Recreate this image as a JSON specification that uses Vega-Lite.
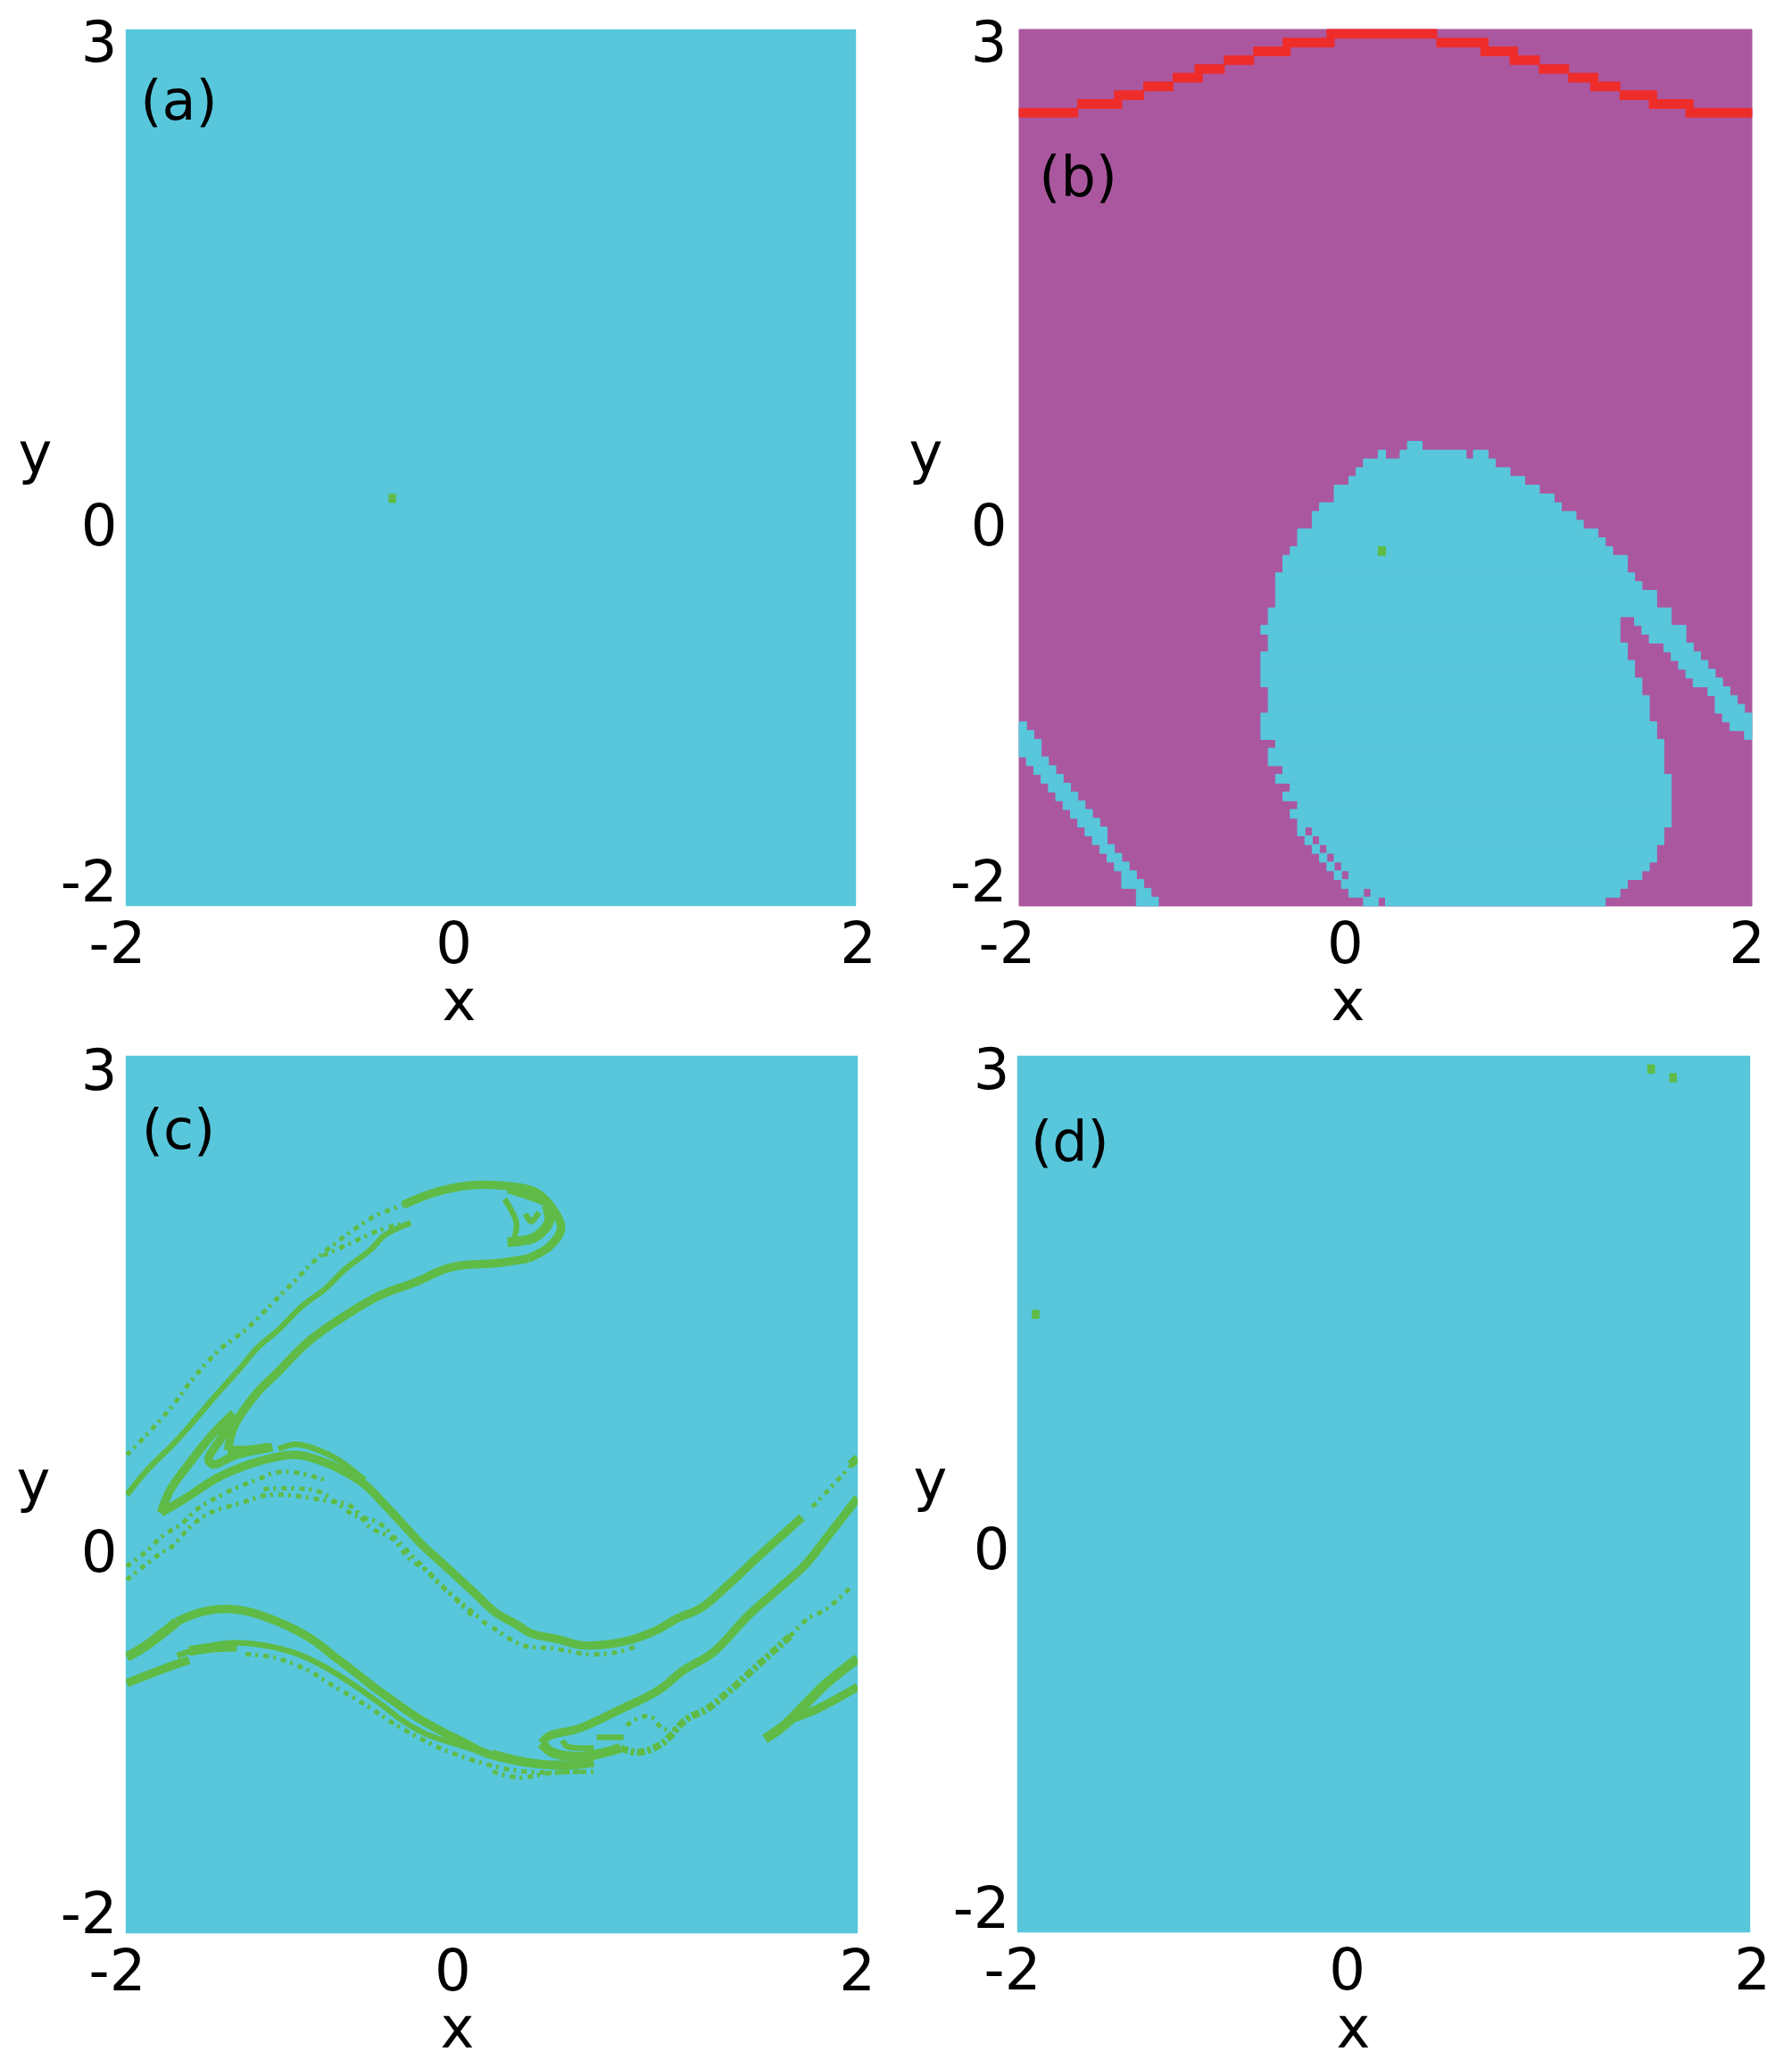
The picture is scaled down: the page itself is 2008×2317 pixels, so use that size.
{"$schema":"https://vega.github.io/schema/vega-lite/v6.json","padding":{"left":18,"top":17,"right":0,"bottom":0},"background":"white","bounds":"flush","spacing":1150,
"config":{"view":{"stroke":null},"font":"DejaVu Sans","axis":{"grid":false,"domain":false,"ticks":false,"labelFont":"DejaVu Sans","titleFont":"DejaVu Sans","labelFontSize":64,"titleFontSize":64,"labelColor":"black","titleColor":"black","titleFontWeight":"normal","labelBound":false,"labelFlush":false,"labelOverlap":false}},
"datasets":{
"a":[{"x":-2,"x2":2,"y":-2,"y2":3,"b":"cyan"},{"x":-0.56,"x2":-0.52,"y":0.3,"y2":0.35,"b":"green"}],
"d":[{"x":-2,"x2":2,"y":-2,"y2":3,"b":"cyan"},{"x":1.44,"x2":1.48,"y":2.9,"y2":2.95,"b":"green"},{"x":1.56,"x2":1.6,"y":2.85,"y2":2.9,"b":"green"},{"x":-1.92,"x2":-1.88,"y":1.5,"y2":1.55,"b":"green"}],
"b":[{"x":-2,"x2":2,"y":-2,"y2":3,"b":"purple"},
{"x":-0.32,"x2":0.28,"y":2.95,"y2":3,"b":"red"},{"x":-0.56,"x2":-0.28,"y":2.9,"y2":2.95,"b":"red"},{"x":0.28,"x2":0.56,"y":2.9,"y2":2.95,"b":"red"},{"x":-0.72,"x2":-0.52,"y":2.85,"y2":2.9,"b":"red"},{"x":0.52,"x2":0.72,"y":2.85,"y2":2.9,"b":"red"},{"x":-0.88,"x2":-0.72,"y":2.8,"y2":2.85,"b":"red"},{"x":0.68,"x2":0.84,"y":2.8,"y2":2.85,"b":"red"},{"x":-1.04,"x2":-0.88,"y":2.75,"y2":2.8,"b":"red"},{"x":0.84,"x2":1,"y":2.75,"y2":2.8,"b":"red"},{"x":-1.16,"x2":-1,"y":2.7,"y2":2.75,"b":"red"},{"x":1,"x2":1.16,"y":2.7,"y2":2.75,"b":"red"},{"x":-1.32,"x2":-1.16,"y":2.65,"y2":2.7,"b":"red"},{"x":1.12,"x2":1.28,"y":2.65,"y2":2.7,"b":"red"},{"x":-1.48,"x2":-1.32,"y":2.6,"y2":2.65,"b":"red"},{"x":1.28,"x2":1.48,"y":2.6,"y2":2.65,"b":"red"},{"x":-1.68,"x2":-1.44,"y":2.55,"y2":2.6,"b":"red"},{"x":1.44,"x2":1.68,"y":2.55,"y2":2.6,"b":"red"},{"x":-2,"x2":-1.68,"y":2.5,"y2":2.55,"b":"red"},{"x":1.64,"x2":2,"y":2.5,"y2":2.55,"b":"red"},
{"x":0.12,"x2":0.2,"y":0.6,"y2":0.65,"b":"cyan"},{"x":-0.04,"x2":0,"y":0.55,"y2":0.6,"b":"cyan"},{"x":0.08,"x2":0.44,"y":0.55,"y2":0.6,"b":"cyan"},{"x":0.48,"x2":0.56,"y":0.55,"y2":0.6,"b":"cyan"},{"x":-0.12,"x2":0.6,"y":0.5,"y2":0.55,"b":"cyan"},{"x":-0.16,"x2":0.68,"y":0.45,"y2":0.5,"b":"cyan"},{"x":-0.2,"x2":0.76,"y":0.4,"y2":0.45,"b":"cyan"},{"x":-0.28,"x2":0.84,"y":0.35,"y2":0.4,"b":"cyan"},{"x":-0.28,"x2":0.92,"y":0.3,"y2":0.35,"b":"cyan"},{"x":-0.36,"x2":0.96,"y":0.25,"y2":0.3,"b":"cyan"},{"x":-0.4,"x2":1.04,"y":0.2,"y2":0.25,"b":"cyan"},{"x":-0.4,"x2":1.08,"y":0.15,"y2":0.2,"b":"cyan"},{"x":-0.48,"x2":1.16,"y":0.1,"y2":0.15,"b":"cyan"},{"x":-0.48,"x2":1.2,"y":0.05,"y2":0.1,"b":"cyan"},{"x":-0.52,"x2":1.24,"y":0,"y2":0.05,"b":"cyan"},{"x":-0.56,"x2":1.32,"y":-0.05,"y2":0,"b":"cyan"},{"x":-0.56,"x2":1.32,"y":-0.1,"y2":-0.05,"b":"cyan"},{"x":-0.6,"x2":1.36,"y":-0.15,"y2":-0.1,"b":"cyan"},{"x":-0.6,"x2":1.4,"y":-0.2,"y2":-0.15,"b":"cyan"},{"x":-0.6,"x2":1.48,"y":-0.25,"y2":-0.2,"b":"cyan"},{"x":-0.6,"x2":1.48,"y":-0.3,"y2":-0.25,"b":"cyan"},{"x":-0.64,"x2":1.56,"y":-0.35,"y2":-0.3,"b":"cyan"},
{"x":-0.64,"x2":1.28,"y":-0.4,"y2":-0.35,"b":"cyan"},{"x":1.36,"x2":1.56,"y":-0.4,"y2":-0.35,"b":"cyan"},{"x":-0.68,"x2":1.28,"y":-0.45,"y2":-0.4,"b":"cyan"},{"x":1.4,"x2":1.64,"y":-0.45,"y2":-0.4,"b":"cyan"},{"x":-0.64,"x2":1.28,"y":-0.5,"y2":-0.45,"b":"cyan"},{"x":1.44,"x2":1.64,"y":-0.5,"y2":-0.45,"b":"cyan"},{"x":-0.64,"x2":1.32,"y":-0.55,"y2":-0.5,"b":"cyan"},{"x":1.52,"x2":1.68,"y":-0.55,"y2":-0.5,"b":"cyan"},{"x":-0.68,"x2":1.32,"y":-0.6,"y2":-0.55,"b":"cyan"},{"x":1.56,"x2":1.72,"y":-0.6,"y2":-0.55,"b":"cyan"},{"x":-0.68,"x2":1.36,"y":-0.65,"y2":-0.6,"b":"cyan"},{"x":1.6,"x2":1.76,"y":-0.65,"y2":-0.6,"b":"cyan"},{"x":-0.68,"x2":1.36,"y":-0.7,"y2":-0.65,"b":"cyan"},{"x":1.64,"x2":1.8,"y":-0.7,"y2":-0.65,"b":"cyan"},{"x":-0.68,"x2":1.4,"y":-0.75,"y2":-0.7,"b":"cyan"},{"x":1.68,"x2":1.84,"y":-0.75,"y2":-0.7,"b":"cyan"},{"x":-0.64,"x2":1.4,"y":-0.8,"y2":-0.75,"b":"cyan"},{"x":1.76,"x2":1.88,"y":-0.8,"y2":-0.75,"b":"cyan"},{"x":-0.64,"x2":1.44,"y":-0.85,"y2":-0.8,"b":"cyan"},{"x":1.8,"x2":1.92,"y":-0.85,"y2":-0.8,"b":"cyan"},{"x":-0.64,"x2":1.44,"y":-0.9,"y2":-0.85,"b":"cyan"},{"x":1.8,"x2":1.96,"y":-0.9,"y2":-0.85,"b":"cyan"},{"x":-0.68,"x2":1.44,"y":-0.95,"y2":-0.9,"b":"cyan"},{"x":1.84,"x2":2,"y":-0.95,"y2":-0.9,"b":"cyan"},{"x":-0.68,"x2":1.48,"y":-1,"y2":-0.95,"b":"cyan"},{"x":1.88,"x2":2,"y":-1,"y2":-0.95,"b":"cyan"},{"x":-0.68,"x2":1.48,"y":-1.05,"y2":-1,"b":"cyan"},{"x":1.96,"x2":2,"y":-1.05,"y2":-1,"b":"cyan"},
{"x":-0.6,"x2":1.52,"y":-1.1,"y2":-1.05,"b":"cyan"},{"x":-0.64,"x2":1.52,"y":-1.15,"y2":-1.1,"b":"cyan"},{"x":-0.64,"x2":1.52,"y":-1.2,"y2":-1.15,"b":"cyan"},{"x":-0.56,"x2":1.52,"y":-1.25,"y2":-1.2,"b":"cyan"},{"x":-0.6,"x2":1.56,"y":-1.3,"y2":-1.25,"b":"cyan"},{"x":-0.52,"x2":1.56,"y":-1.35,"y2":-1.3,"b":"cyan"},{"x":-0.56,"x2":1.56,"y":-1.4,"y2":-1.35,"b":"cyan"},{"x":-0.48,"x2":1.56,"y":-1.45,"y2":-1.4,"b":"cyan"},{"x":-0.52,"x2":1.56,"y":-1.5,"y2":-1.45,"b":"cyan"},{"x":-0.48,"x2":1.56,"y":-1.55,"y2":-1.5,"b":"cyan"},{"x":-0.48,"x2":-0.44,"y":-1.6,"y2":-1.55,"b":"cyan"},{"x":-0.4,"x2":1.52,"y":-1.6,"y2":-1.55,"b":"cyan"},{"x":-0.44,"x2":-0.4,"y":-1.65,"y2":-1.6,"b":"cyan"},{"x":-0.36,"x2":1.52,"y":-1.65,"y2":-1.6,"b":"cyan"},{"x":-0.4,"x2":-0.36,"y":-1.7,"y2":-1.65,"b":"cyan"},{"x":-0.32,"x2":1.48,"y":-1.7,"y2":-1.65,"b":"cyan"},{"x":-0.36,"x2":-0.32,"y":-1.75,"y2":-1.7,"b":"cyan"},{"x":-0.28,"x2":1.48,"y":-1.75,"y2":-1.7,"b":"cyan"},{"x":-0.32,"x2":-0.28,"y":-1.8,"y2":-1.75,"b":"cyan"},{"x":-0.24,"x2":1.44,"y":-1.8,"y2":-1.75,"b":"cyan"},{"x":-0.28,"x2":-0.24,"y":-1.85,"y2":-1.8,"b":"cyan"},{"x":-0.2,"x2":1.4,"y":-1.85,"y2":-1.8,"b":"cyan"},{"x":-0.24,"x2":1.32,"y":-1.9,"y2":-1.85,"b":"cyan"},{"x":-0.2,"x2":-0.12,"y":-1.95,"y2":-1.9,"b":"cyan"},{"x":-0.08,"x2":1.28,"y":-1.95,"y2":-1.9,"b":"cyan"},{"x":-0.12,"x2":-0.04,"y":-2,"y2":-1.95,"b":"cyan"},{"x":0,"x2":1.2,"y":-2,"y2":-1.95,"b":"cyan"},
{"x":-2,"x2":-1.96,"y":-1,"y2":-0.95,"b":"cyan"},{"x":-2,"x2":-1.92,"y":-1.05,"y2":-1,"b":"cyan"},{"x":-2,"x2":-1.88,"y":-1.1,"y2":-1.05,"b":"cyan"},{"x":-2,"x2":-1.88,"y":-1.15,"y2":-1.1,"b":"cyan"},{"x":-1.96,"x2":-1.84,"y":-1.2,"y2":-1.15,"b":"cyan"},{"x":-1.92,"x2":-1.8,"y":-1.25,"y2":-1.2,"b":"cyan"},{"x":-1.88,"x2":-1.76,"y":-1.3,"y2":-1.25,"b":"cyan"},{"x":-1.84,"x2":-1.72,"y":-1.35,"y2":-1.3,"b":"cyan"},{"x":-1.8,"x2":-1.68,"y":-1.4,"y2":-1.35,"b":"cyan"},{"x":-1.76,"x2":-1.64,"y":-1.45,"y2":-1.4,"b":"cyan"},{"x":-1.72,"x2":-1.6,"y":-1.5,"y2":-1.45,"b":"cyan"},{"x":-1.68,"x2":-1.56,"y":-1.55,"y2":-1.5,"b":"cyan"},{"x":-1.64,"x2":-1.52,"y":-1.6,"y2":-1.55,"b":"cyan"},{"x":-1.6,"x2":-1.52,"y":-1.65,"y2":-1.6,"b":"cyan"},{"x":-1.56,"x2":-1.48,"y":-1.7,"y2":-1.65,"b":"cyan"},{"x":-1.52,"x2":-1.44,"y":-1.75,"y2":-1.7,"b":"cyan"},{"x":-1.48,"x2":-1.4,"y":-1.8,"y2":-1.75,"b":"cyan"},{"x":-1.44,"x2":-1.36,"y":-1.85,"y2":-1.8,"b":"cyan"},{"x":-1.44,"x2":-1.32,"y":-1.9,"y2":-1.85,"b":"cyan"},{"x":-1.36,"x2":-1.28,"y":-1.95,"y2":-1.9,"b":"cyan"},{"x":-1.36,"x2":-1.24,"y":-2,"y2":-1.95,"b":"cyan"},
{"x":-0.04,"x2":0,"y":0,"y2":0.05,"b":"green"}],
"cbg":[{"x":-2,"x2":2,"y":-2,"y2":3,"b":"cyan"}],
"c":[
{"c":"A1","k":"sparse","x":-1.995,"y":0.726},{"c":"A1","k":"sparse","x":-1.898,"y":0.828},{"c":"A1","k":"sparse","x":-1.751,"y":0.998},{"c":"A1","k":"sparse","x":-1.621,"y":1.176},{"c":"A1","k":"sparse","x":-1.475,"y":1.337},{"c":"A1","k":"sparse","x":-1.345,"y":1.439},{"c":"A1","k":"sparse","x":-1.198,"y":1.591},{"c":"A1","k":"sparse","x":-1.068,"y":1.727},{"c":"A1","k":"sparse","x":-0.938,"y":1.862},{"c":"A1","k":"sparse","x":-0.792,"y":1.981},{"c":"A1","k":"sparse","x":-0.646,"y":2.083},{"c":"A1","k":"sparse","x":-0.483,"y":2.151},
{"c":"A2","k":"main","x":-0.483,"y":2.151},{"c":"A2","k":"main","x":-0.32,"y":2.219},{"c":"A2","k":"main","x":-0.125,"y":2.261},{"c":"A2","k":"main","x":0.054,"y":2.261},{"c":"A2","k":"main","x":0.232,"y":2.227},{"c":"A2","k":"main","x":0.33,"y":2.134},{"c":"A2","k":"main","x":0.379,"y":2.015},{"c":"A2","k":"main","x":0.314,"y":1.913},{"c":"A2","k":"main","x":0.2,"y":1.845},
{"c":"A3","k":"main","x":0.2,"y":1.845},{"c":"A3","k":"main","x":0.037,"y":1.82},{"c":"A3","k":"main","x":-0.223,"y":1.795},{"c":"A3","k":"main","x":-0.418,"y":1.71},{"c":"A3","k":"main","x":-0.613,"y":1.634},{"c":"A3","k":"main","x":-0.808,"y":1.515},{"c":"A3","k":"main","x":-1.003,"y":1.371},{"c":"A3","k":"main","x":-1.166,"y":1.201},{"c":"A3","k":"main","x":-1.28,"y":1.083},{"c":"A3","k":"main","x":-1.377,"y":0.947},{"c":"A3","k":"main","x":-1.418,"y":0.862},{"c":"A3","k":"main","x":-1.442,"y":0.752},
{"c":"A4","k":"dense","x":0.086,"y":1.939},{"c":"A4","k":"dense","x":0.232,"y":1.964},{"c":"A4","k":"dense","x":0.314,"y":2.057},{"c":"A4","k":"dense","x":0.298,"y":2.151},
{"c":"A5","k":"thin","x":0.07,"y":2.185},{"c":"A5","k":"thin","x":0.135,"y":2.049},{"c":"A5","k":"thin","x":0.119,"y":1.947},
{"c":"A6","k":"thin","x":0.184,"y":2.1},{"c":"A6","k":"thin","x":0.216,"y":2.057},{"c":"A6","k":"thin","x":0.257,"y":2.108},
{"c":"A7","k":"thin","x":0.086,"y":2.235},{"c":"A7","k":"thin","x":0.232,"y":2.185},{"c":"A7","k":"thin","x":0.314,"y":2.151},
{"c":"B","k":"thin","x":-1.995,"y":0.498},{"c":"B","k":"thin","x":-1.881,"y":0.642},{"c":"B","k":"thin","x":-1.735,"y":0.794},{"c":"B","k":"thin","x":-1.605,"y":0.947},{"c":"B","k":"thin","x":-1.507,"y":1.066},{"c":"B","k":"thin","x":-1.377,"y":1.218},{"c":"B","k":"thin","x":-1.28,"y":1.337},{"c":"B","k":"thin","x":-1.166,"y":1.439},{"c":"B","k":"thin","x":-1.036,"y":1.574},{"c":"B","k":"thin","x":-0.906,"y":1.676},{"c":"B","k":"thin","x":-0.808,"y":1.778},{"c":"B","k":"thin","x":-0.662,"y":1.896},{"c":"B","k":"thin","x":-0.581,"y":1.981},{"c":"B","k":"thin","x":-0.442,"y":2.049},
{"c":"B2","k":"sparse","x":-0.922,"y":1.862},{"c":"B2","k":"sparse","x":-0.776,"y":1.93},{"c":"B2","k":"sparse","x":-0.613,"y":2.007},{"c":"B2","k":"sparse","x":-0.499,"y":2.04},
{"c":"C","k":"main","x":-1.808,"y":0.396},{"c":"C","k":"main","x":-1.759,"y":0.523},{"c":"C","k":"main","x":-1.654,"y":0.676},{"c":"C","k":"main","x":-1.524,"y":0.845},{"c":"C","k":"main","x":-1.41,"y":0.964},
{"c":"C2","k":"main","x":-1.808,"y":0.396},{"c":"C2","k":"main","x":-1.67,"y":0.481},{"c":"C2","k":"main","x":-1.507,"y":0.591},{"c":"C2","k":"main","x":-1.361,"y":0.659},{"c":"C2","k":"main","x":-1.198,"y":0.709},{"c":"C2","k":"main","x":-1.068,"y":0.726},{"c":"C2","k":"main","x":-0.938,"y":0.693},{"c":"C2","k":"main","x":-0.808,"y":0.633},{"c":"C2","k":"main","x":-0.694,"y":0.557},{"c":"C2","k":"main","x":-0.581,"y":0.438},{"c":"C2","k":"main","x":-0.483,"y":0.328},{"c":"C2","k":"main","x":-0.385,"y":0.218},{"c":"C2","k":"main","x":-0.288,"y":0.125},{"c":"C2","k":"main","x":-0.207,"y":0.048},{"c":"C2","k":"main","x":-0.093,"y":-0.062},{"c":"C2","k":"main","x":0.021,"y":-0.172},{"c":"C2","k":"main","x":0.135,"y":-0.24},{"c":"C2","k":"main","x":0.216,"y":-0.291},{"c":"C2","k":"main","x":0.363,"y":-0.325},{"c":"C2","k":"main","x":0.493,"y":-0.359},{"c":"C2","k":"main","x":0.655,"y":-0.35},{"c":"C2","k":"main","x":0.769,"y":-0.325},{"c":"C2","k":"main","x":0.899,"y":-0.274},{"c":"C2","k":"main","x":1.013,"y":-0.206},{"c":"C2","k":"main","x":1.143,"y":-0.147},{"c":"C2","k":"main","x":1.306,"y":-0.002},{"c":"C2","k":"main","x":1.452,"y":0.141},{"c":"C2","k":"main","x":1.615,"y":0.294},{"c":"C2","k":"main","x":1.696,"y":0.37},
{"c":"C3","k":"sparse","x":1.753,"y":0.43},{"c":"C3","k":"sparse","x":1.891,"y":0.582},{"c":"C3","k":"sparse","x":1.975,"y":0.679},
{"c":"C4","k":"main","x":1.96,"y":0.67},{"c":"C4","k":"main","x":2,"y":0.709},
{"c":"D","k":"main","x":-1.41,"y":0.955},{"c":"D","k":"main","x":-1.475,"y":0.828},{"c":"D","k":"main","x":-1.548,"y":0.701},{"c":"D","k":"main","x":-1.524,"y":0.672},{"c":"D","k":"main","x":-1.394,"y":0.726},{"c":"D","k":"main","x":-1.198,"y":0.769},
{"c":"D2","k":"dense","x":-1.442,"y":0.752},{"c":"D2","k":"dense","x":-1.328,"y":0.752},{"c":"D2","k":"dense","x":-1.215,"y":0.769},
{"c":"D3","k":"thin","x":-1.166,"y":0.76},{"c":"D3","k":"thin","x":-1.068,"y":0.786},{"c":"D3","k":"thin","x":-0.906,"y":0.735},{"c":"D3","k":"thin","x":-0.808,"y":0.676},{"c":"D3","k":"thin","x":-0.694,"y":0.582},
{"c":"E1","k":"sparse","x":-1.995,"y":0.091},{"c":"E1","k":"sparse","x":-1.898,"y":0.167},{"c":"E1","k":"sparse","x":-1.792,"y":0.269},{"c":"E1","k":"sparse","x":-1.702,"y":0.328},{"c":"E1","k":"sparse","x":-1.605,"y":0.421},{"c":"E1","k":"sparse","x":-1.507,"y":0.481},{"c":"E1","k":"sparse","x":-1.394,"y":0.54},{"c":"E1","k":"sparse","x":-1.288,"y":0.582},{"c":"E1","k":"sparse","x":-1.182,"y":0.625},{"c":"E1","k":"sparse","x":-1.068,"y":0.625},{"c":"E1","k":"sparse","x":-0.906,"y":0.582},
{"c":"E2","k":"sparse","x":-1.995,"y":0.014},{"c":"E2","k":"sparse","x":-1.914,"y":0.082},{"c":"E2","k":"sparse","x":-1.808,"y":0.167},{"c":"E2","k":"sparse","x":-1.751,"y":0.201},{"c":"E2","k":"sparse","x":-1.654,"y":0.311},{"c":"E2","k":"sparse","x":-1.556,"y":0.387},{"c":"E2","k":"sparse","x":-1.475,"y":0.421},{"c":"E2","k":"sparse","x":-1.361,"y":0.455},{"c":"E2","k":"sparse","x":-1.231,"y":0.497},{"c":"E2","k":"sparse","x":-1.068,"y":0.492},{"c":"E2","k":"sparse","x":-0.906,"y":0.464},{"c":"E2","k":"sparse","x":-0.776,"y":0.438},{"c":"E2","k":"sparse","x":-0.662,"y":0.311},{"c":"E2","k":"sparse","x":-0.548,"y":0.252},{"c":"E2","k":"sparse","x":-0.45,"y":0.133},{"c":"E2","k":"sparse","x":-0.353,"y":0.065},{"c":"E2","k":"sparse","x":-0.255,"y":-0.037},{"c":"E2","k":"sparse","x":-0.142,"y":-0.138},{"c":"E2","k":"sparse","x":-0.028,"y":-0.24},
{"c":"E3","k":"sparse","x":-1.247,"y":0.531},{"c":"E3","k":"sparse","x":-1.068,"y":0.535},{"c":"E3","k":"sparse","x":-0.938,"y":0.514},{"c":"E3","k":"sparse","x":-0.759,"y":0.387},{"c":"E3","k":"sparse","x":-0.613,"y":0.336},{"c":"E3","k":"sparse","x":-0.499,"y":0.218},{"c":"E3","k":"sparse","x":-0.385,"y":0.099},{"c":"E3","k":"sparse","x":-0.304,"y":0.006},{"c":"E3","k":"sparse","x":-0.207,"y":-0.087},{"c":"E3","k":"sparse","x":-0.109,"y":-0.189},
{"c":"F2","k":"sparse","x":0.005,"y":-0.257},{"c":"F2","k":"sparse","x":0.168,"y":-0.359},{"c":"F2","k":"sparse","x":0.33,"y":-0.376},{"c":"F2","k":"sparse","x":0.525,"y":-0.409},{"c":"F2","k":"sparse","x":0.672,"y":-0.401},{"c":"F2","k":"sparse","x":0.785,"y":-0.367},
{"c":"G","k":"main","x":0.273,"y":-0.918},{"c":"G","k":"main","x":0.314,"y":-0.876},{"c":"G","k":"main","x":0.476,"y":-0.833},{"c":"G","k":"main","x":0.688,"y":-0.732},{"c":"G","k":"main","x":0.915,"y":-0.613},{"c":"G","k":"main","x":1.046,"y":-0.503},{"c":"G","k":"main","x":1.208,"y":-0.401},{"c":"G","k":"main","x":1.403,"y":-0.189},{"c":"G","k":"main","x":1.55,"y":-0.053},{"c":"G","k":"main","x":1.712,"y":0.099},{"c":"G","k":"main","x":1.842,"y":0.269},{"c":"G","k":"main","x":2,"y":0.481},
{"c":"H","k":"main","x":0.005,"y":-0.977},{"c":"H","k":"main","x":0.168,"y":-1.02},{"c":"H","k":"main","x":0.395,"y":-1.045},{"c":"H","k":"main","x":0.558,"y":-1.028},
{"c":"H1","k":"dense","x":0.273,"y":-0.918},{"c":"H1","k":"dense","x":0.33,"y":-0.969},{"c":"H1","k":"dense","x":0.493,"y":-0.994},{"c":"H1","k":"dense","x":0.704,"y":-0.944},
{"c":"H2","k":"thin","x":0.387,"y":-0.901},{"c":"H2","k":"thin","x":0.411,"y":-0.935},{"c":"H2","k":"thin","x":0.558,"y":-0.944},
{"c":"H3","k":"sparse","x":0.005,"y":-1.079},{"c":"H3","k":"sparse","x":0.151,"y":-1.113},{"c":"H3","k":"sparse","x":0.314,"y":-1.088},{"c":"H3","k":"sparse","x":0.558,"y":-1.079},
{"c":"I","k":"band","x":0.704,"y":-0.944},{"c":"I","k":"band","x":0.802,"y":-0.969},{"c":"I","k":"band","x":0.932,"y":-0.918},{"c":"I","k":"band","x":1.062,"y":-0.782},{"c":"I","k":"band","x":1.176,"y":-0.723},{"c":"I","k":"band","x":1.306,"y":-0.613},{"c":"I","k":"band","x":1.468,"y":-0.46},{"c":"I","k":"band","x":1.631,"y":-0.308},{"c":"I","k":"sparse","x":1.631,"y":-0.308},{"c":"I4","k":"sparse","x":1.631,"y":-0.308},{"c":"I4","k":"sparse","x":1.729,"y":-0.206},{"c":"I4","k":"sparse","x":1.826,"y":-0.155},{"c":"I4","k":"sparse","x":1.972,"y":-0.019},
{"c":"I2","k":"sparse","x":0.737,"y":-0.816},{"c":"I2","k":"sparse","x":0.818,"y":-0.766},{"c":"I2","k":"sparse","x":0.883,"y":-0.774},{"c":"I2","k":"sparse","x":0.932,"y":-0.833},{"c":"I2","k":"sparse","x":1.013,"y":-0.833},{"c":"I2","k":"sparse","x":1.078,"y":-0.766},
{"c":"I3","k":"thin","x":0.574,"y":-0.884},{"c":"I3","k":"thin","x":0.72,"y":-0.884},
{"c":"J","k":"dense","x":1.493,"y":-0.893},{"c":"J","k":"dense","x":1.598,"y":-0.816},{"c":"J","k":"dense","x":1.712,"y":-0.698},{"c":"J","k":"dense","x":1.826,"y":-0.579},{"c":"J","k":"dense","x":2,"y":-0.435},
{"c":"J2","k":"main","x":1.631,"y":-0.782},{"c":"J2","k":"main","x":1.777,"y":-0.723},{"c":"J2","k":"main","x":2,"y":-0.596},
{"c":"K","k":"dense","x":-1.995,"y":-0.426},{"c":"K","k":"dense","x":-1.898,"y":-0.367},{"c":"K","k":"dense","x":-1.8,"y":-0.291},{"c":"K","k":"dense","x":-1.719,"y":-0.223},
{"c":"K2","k":"main","x":-1.719,"y":-0.223},{"c":"K2","k":"main","x":-1.605,"y":-0.175},{"c":"K2","k":"main","x":-1.475,"y":-0.152},{"c":"K2","k":"main","x":-1.345,"y":-0.164},{"c":"K2","k":"main","x":-1.215,"y":-0.206},{"c":"K2","k":"main","x":-1.085,"y":-0.265},{"c":"K2","k":"main","x":-0.971,"y":-0.333},{"c":"K2","k":"main","x":-0.857,"y":-0.426},{"c":"K2","k":"main","x":-0.759,"y":-0.503},{"c":"K2","k":"main","x":-0.646,"y":-0.596},{"c":"K2","k":"main","x":-0.532,"y":-0.681},{"c":"K2","k":"main","x":-0.402,"y":-0.774},{"c":"K2","k":"main","x":-0.272,"y":-0.85},{"c":"K2","k":"main","x":-0.158,"y":-0.909},{"c":"K2","k":"main","x":-0.044,"y":-0.969},{"c":"K2","k":"main","x":0.102,"y":-1.011},{"c":"K2","k":"main","x":0.265,"y":-1.037},{"c":"K2","k":"main","x":0.411,"y":-1.04},
{"c":"L","k":"main","x":-1.995,"y":-0.575},{"c":"L","k":"main","x":-1.881,"y":-0.528},{"c":"L","k":"main","x":-1.751,"y":-0.477},{"c":"L","k":"main","x":-1.654,"y":-0.443},
{"c":"L1","k":"dense","x":-1.654,"y":-0.392},{"c":"L1","k":"dense","x":-1.524,"y":-0.372},{"c":"L1","k":"dense","x":-1.394,"y":-0.367},
{"c":"L2","k":"thin","x":-1.719,"y":-0.418},{"c":"L2","k":"thin","x":-1.621,"y":-0.384},{"c":"L2","k":"thin","x":-1.524,"y":-0.359},{"c":"L2","k":"thin","x":-1.394,"y":-0.345},{"c":"L2","k":"thin","x":-1.231,"y":-0.362},{"c":"L2","k":"thin","x":-1.068,"y":-0.406},{"c":"L2","k":"thin","x":-0.922,"y":-0.477},{"c":"L2","k":"thin","x":-0.776,"y":-0.57},{"c":"L2","k":"thin","x":-0.613,"y":-0.689},{"c":"L2","k":"thin","x":-0.483,"y":-0.791},{"c":"L2","k":"thin","x":-0.353,"y":-0.867},{"c":"L2","k":"thin","x":-0.207,"y":-0.918},{"c":"L2","k":"thin","x":-0.076,"y":-0.96},
{"c":"L3","k":"sparse","x":-1.345,"y":-0.409},{"c":"L3","k":"sparse","x":-1.182,"y":-0.43},{"c":"L3","k":"sparse","x":-1.003,"y":-0.503},{"c":"L3","k":"sparse","x":-0.857,"y":-0.596},{"c":"L3","k":"sparse","x":-0.678,"y":-0.706},{"c":"L3","k":"sparse","x":-0.532,"y":-0.808},{"c":"L3","k":"sparse","x":-0.32,"y":-0.927},{"c":"L3","k":"sparse","x":-0.207,"y":-0.977},{"c":"L3","k":"sparse","x":-0.028,"y":-1.037},{"c":"L3","k":"sparse","x":0.119,"y":-1.071},{"c":"L3","k":"sparse","x":0.314,"y":-1.084},{"c":"L3","k":"sparse","x":0.493,"y":-1.079}
]},
"vconcat":[
{"hconcat":[
{"width":818,"height":982,"layer":[
{"data":{"name":"a"},"mark":{"type":"rect","strokeWidth":0.4},"encoding":{"x":{"field":"x","type":"quantitative","scale":{"domain":[-2,2],"nice":false,"zero":false},"axis":{"title":"x","values":[-2,-0.205,2],"labelExpr":"datum.value<-1?'-2':datum.value<1?'0':'2'","labelAngle":0,"labelPadding":12,"labelOffset":{"condition":[{"test":"datum.value<-1","value":-10},{"test":"datum.value>1","value":2}],"value":0},"titleX":373,"titleY":108,"titleBaseline":"middle","titleAlign":"center"}},"x2":{"field":"x2"},"y":{"field":"y","type":"quantitative","scale":{"domain":[-2,3],"nice":false,"zero":false},"axis":{"title":"y","values":[-1.875,0.157,2.916],"labelExpr":"datum.value<-1?'-2':datum.value<1?'0':'3'","labelPadding":10,"titleAngle":0,"titleX":-102,"titleY":477,"titleBaseline":"middle","titleAlign":"center"}},"y2":{"field":"y2"},"color":{"field":"b","type":"nominal","legend":null,"scale":{"domain":["cyan","green","purple","red"],"range":["#58C7DC","#60BB46","#AB579F","#EE2D2A"]}},"stroke":{"field":"b","type":"nominal","legend":null,"scale":{"domain":["cyan","green","purple","red"],"range":["#58C7DC","#60BB46","#AB579F","#EE2D2A"]}}}},
{"data":{"values":[{"x":-1.709,"y":2.58,"t":"(a)"}]},"mark":{"type":"text","fontSize":62,"font":"DejaVu Sans","color":"black"},"encoding":{"x":{"field":"x","type":"quantitative"},"y":{"field":"y","type":"quantitative"},"text":{"field":"t"}}}
]},
{"width":821,"height":982,"layer":[
{"data":{"name":"b"},"mark":{"type":"rect","strokeWidth":1},"encoding":{"x":{"field":"x","type":"quantitative","scale":{"domain":[-2,2],"nice":false,"zero":false},"axis":{"title":"x","values":[-2,-0.222,2],"labelExpr":"datum.value<-1?'-2':datum.value<1?'0':'2'","labelAngle":0,"labelPadding":12,"labelOffset":{"condition":[{"test":"datum.value<-1","value":-14},{"test":"datum.value>1","value":-6}],"value":0},"titleX":368,"titleY":108,"titleBaseline":"middle","titleAlign":"center"}},"x2":{"field":"x2"},"y":{"field":"y","type":"quantitative","scale":{"domain":[-2,3],"nice":false,"zero":false},"axis":{"title":"y","values":[-1.875,0.157,2.916],"labelExpr":"datum.value<-1?'-2':datum.value<1?'0':'3'","labelPadding":14,"titleAngle":0,"titleX":-105,"titleY":477,"titleBaseline":"middle","titleAlign":"center"}},"y2":{"field":"y2"},"color":{"field":"b","type":"nominal","legend":null,"scale":{"domain":["cyan","green","purple","red"],"range":["#58C7DC","#60BB46","#AB579F","#EE2D2A"]}},"stroke":{"field":"b","type":"nominal","legend":null,"scale":{"domain":["cyan","green","purple","red"],"range":["#58C7DC","#60BB46","#AB579F","#EE2D2A"]}}}},
{"data":{"values":[{"x":-1.678,"y":2.15,"t":"(b)"}]},"mark":{"type":"text","fontSize":62,"font":"DejaVu Sans","color":"black"},"encoding":{"x":{"field":"x","type":"quantitative"},"y":{"field":"y","type":"quantitative"},"text":{"field":"t"}}}
]}
],"spacing":183,"bounds":"flush"},
{"hconcat":[
{"width":820,"height":983,"layer":[
{"data":{"name":"cbg"},"mark":{"type":"rect","strokeWidth":0.4},"encoding":{"x":{"field":"x","type":"quantitative","scale":{"domain":[-2,2],"nice":false,"zero":false},"axis":{"title":"x","values":[-2,-0.215,2],"labelExpr":"datum.value<-1?'-2':datum.value<1?'0':'2'","labelAngle":0,"labelPadding":12,"labelOffset":{"condition":[{"test":"datum.value<-1","value":-10},{"test":"datum.value>1","value":-1}],"value":0},"titleX":371,"titleY":108,"titleBaseline":"middle","titleAlign":"center"}},"x2":{"field":"x2"},"y":{"field":"y","type":"quantitative","scale":{"domain":[-2,3],"nice":false,"zero":false},"axis":{"title":"y","values":[-1.903,0.157,2.908],"labelExpr":"datum.value<-1?'-2':datum.value<1?'0':'3'","labelPadding":10,"titleAngle":0,"titleX":-104,"titleY":479,"titleBaseline":"middle","titleAlign":"center"}},"y2":{"field":"y2"},"color":{"field":"b","type":"nominal","legend":null,"scale":{"domain":["cyan","green","purple","red"],"range":["#58C7DC","#60BB46","#AB579F","#EE2D2A"]}},"stroke":{"field":"b","type":"nominal","legend":null,"scale":{"domain":["cyan","green","purple","red"],"range":["#58C7DC","#60BB46","#AB579F","#EE2D2A"]}}}},
{"data":{"name":"c"},"mark":{"type":"line","order":false,"clip":true,"color":"#60BB46","strokeCap":"butt","strokeJoin":"round","interpolate":"catmull-rom"},"encoding":{"x":{"field":"x","type":"quantitative"},"y":{"field":"y","type":"quantitative"},"detail":{"field":"c"},"strokeWidth":{"field":"k","type":"nominal","legend":null,"scale":{"domain":["dense","main","band","thin","sparse"],"range":[11,5,5,3.5,3.5]}},"strokeDash":{"field":"k","type":"nominal","legend":null,"scale":{"domain":["dense","main","band","thin","sparse"],"range":[[1,0],[1,0],[9,3,4,3],[1,0],[6,5,3,6]]}}}},
{"data":{"values":[{"x":-1.712,"y":2.568,"t":"(c)"}]},"mark":{"type":"text","fontSize":62,"font":"DejaVu Sans","color":"black"},"encoding":{"x":{"field":"x","type":"quantitative"},"y":{"field":"y","type":"quantitative"},"text":{"field":"t"}}}
]},
{"width":821,"height":982,"layer":[
{"data":{"name":"d"},"mark":{"type":"rect","strokeWidth":0.4},"encoding":{"x":{"field":"x","type":"quantitative","scale":{"domain":[-2,2],"nice":false,"zero":false},"axis":{"title":"x","values":[-2,-0.202,2],"labelExpr":"datum.value<-1?'-2':datum.value<1?'0':'2'","labelAngle":0,"labelPadding":12,"labelOffset":{"condition":[{"test":"datum.value<-1","value":-6},{"test":"datum.value>1","value":2}],"value":0},"titleX":376,"titleY":109,"titleBaseline":"middle","titleAlign":"center"}},"x2":{"field":"x2"},"y":{"field":"y","type":"quantitative","scale":{"domain":[-2,3],"nice":false,"zero":false},"axis":{"title":"y","values":[-1.873,0.174,2.913],"labelExpr":"datum.value<-1?'-2':datum.value<1?'0':'3'","labelPadding":9,"titleAngle":0,"titleX":-98,"titleY":478,"titleBaseline":"middle","titleAlign":"center"}},"y2":{"field":"y2"},"color":{"field":"b","type":"nominal","legend":null,"scale":{"domain":["cyan","green","purple","red"],"range":["#58C7DC","#60BB46","#AB579F","#EE2D2A"]}},"stroke":{"field":"b","type":"nominal","legend":null,"scale":{"domain":["cyan","green","purple","red"],"range":["#58C7DC","#60BB46","#AB579F","#EE2D2A"]}}}},
{"data":{"values":[{"x":-1.713,"y":2.5,"t":"(d)"}]},"mark":{"type":"text","fontSize":62,"font":"DejaVu Sans","color":"black"},"encoding":{"x":{"field":"x","type":"quantitative"},"y":{"field":"y","type":"quantitative"},"text":{"field":"t"}}}
]}
],"spacing":179,"bounds":"flush"}
]}
